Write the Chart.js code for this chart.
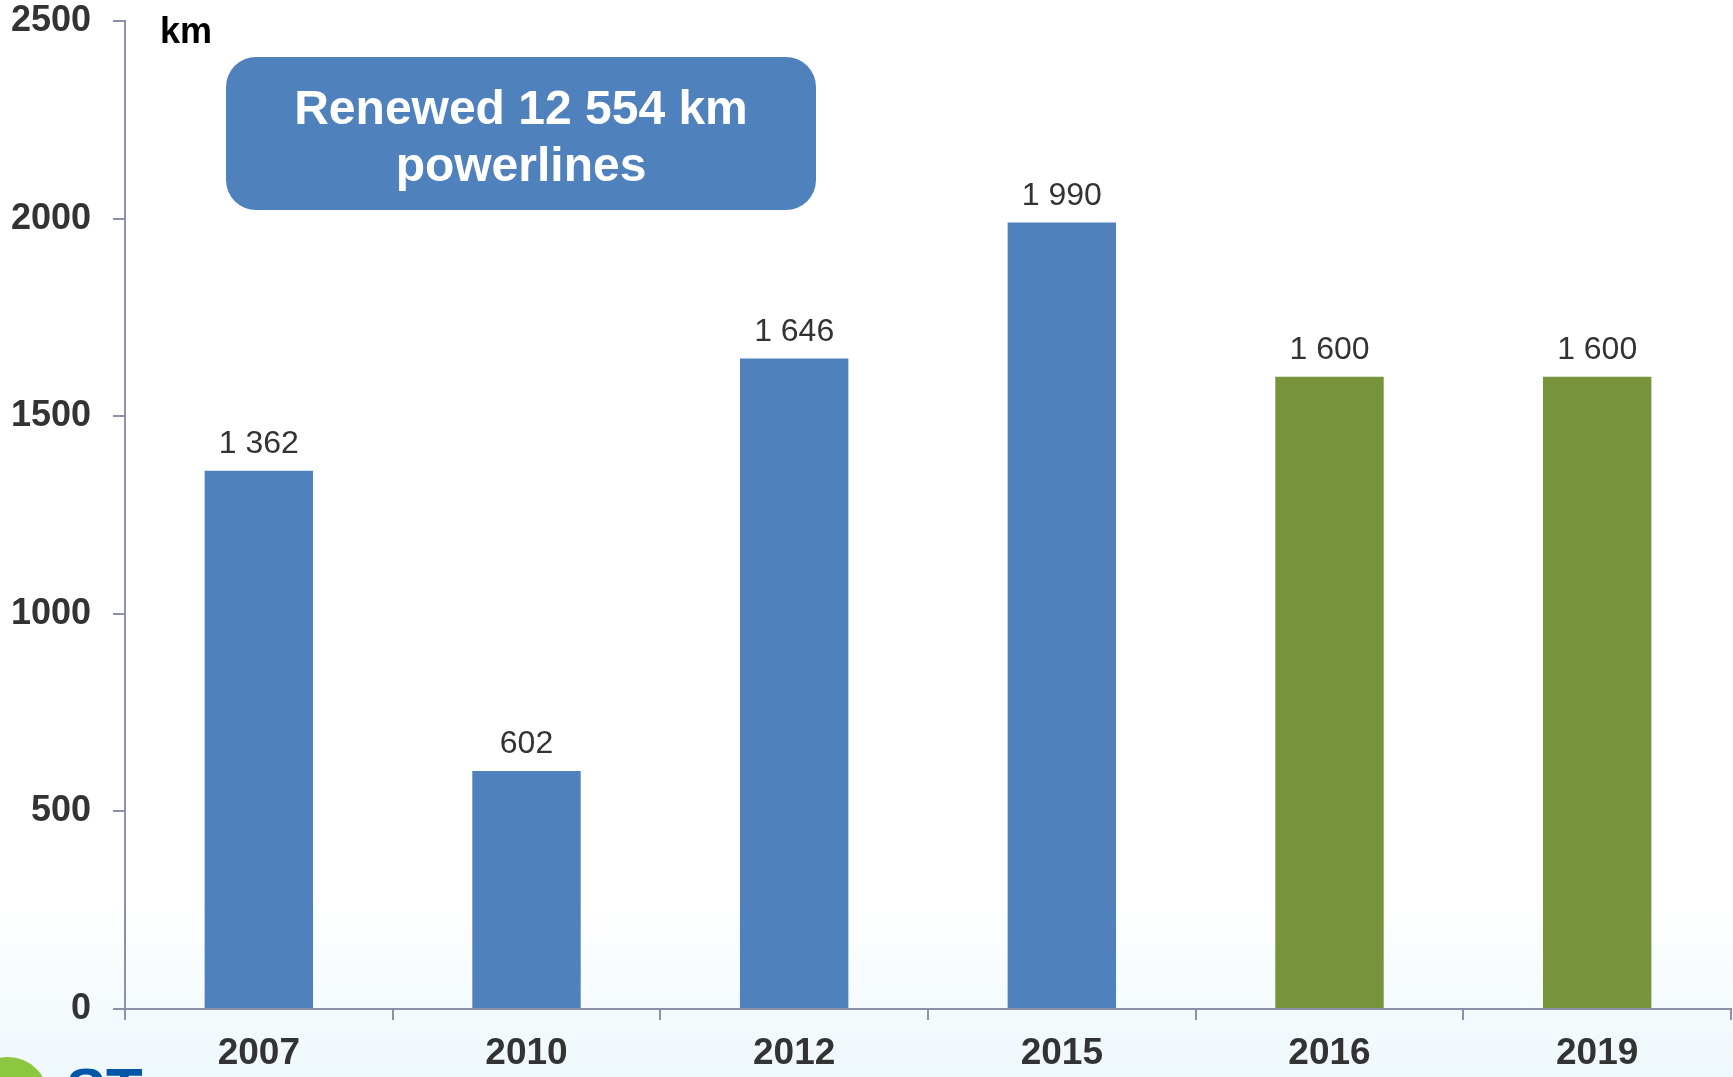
<!DOCTYPE html>
<html>
<head>
<meta charset="utf-8">
<title>Renewed powerlines</title>
<script src="https://cdn.jsdelivr.net/npm/chart.js@4.4.1/dist/chart.umd.min.js"></script>
<style>
  html, body { margin: 0; padding: 0; }
  body {
    width: 1733px; height: 1077px; overflow: hidden;
    background:
      linear-gradient(to bottom, rgba(255,255,255,0) 0px, rgba(255,255,255,0) 900px, rgba(225,242,248,0.55) 1077px),
      #ffffff;
  }
  #wrap { position: absolute; left: 0; top: 0; width: 1733px; height: 1077px; }
</style>
</head>
<body>
<div id="wrap"><canvas id="chartBar" width="1733" height="1077"></canvas></div>
<script>
// dados
const years = ['2007', '2010', '2012', '2015', '2016', '2019'];
const km = [1362, 602, 1646, 1990, 1600, 1600];
const barColors = ['#4F81BD', '#4F81BD', '#4F81BD', '#4F81BD', '#77933C', '#77933C'];
const yTicks = [0, 500, 1000, 1500, 2000, 2500];
const boxLines = ['Renewed 12 554 km', 'powerlines'];
const unitLabel = 'km';

const FONT = '"Liberation Sans", Arial, sans-serif';
const AXIS = '#8C90A8';

function fmt(v){
  return String(v).replace(/\B(?=(\d{3})+(?!\d))/g, ' ');
}

// rótulos de valor acima das barras
const valueLabels = {
  id: 'valueLabels',
  afterDatasetsDraw(chart){
    const ctx = chart.ctx;
    const meta = chart.getDatasetMeta(0);
    ctx.save();
    ctx.font = '32px ' + FONT;
    ctx.fillStyle = '#333333';
    ctx.textAlign = 'center';
    ctx.textBaseline = 'alphabetic';
    meta.data.forEach(function(bar, i){
      ctx.fillText(fmt(km[i]), bar.x, bar.y - 18);
    });
    ctx.restore();
  }
};

// caixa de destaque, unidade e logo
const extras = {
  id: 'extras',
  afterDraw(chart){
    const ctx = chart.ctx;
    ctx.save();
    ctx.fillStyle = '#4F81BD';
    ctx.beginPath();
    ctx.roundRect(226, 57, 590, 153, 30);
    ctx.fill();
    ctx.fillStyle = '#ffffff';
    ctx.font = 'bold 48px ' + FONT;
    ctx.textAlign = 'center';
    ctx.fillText(boxLines[0], 521, 124);
    ctx.fillText(boxLines[1], 521, 181);

    ctx.fillStyle = '#000000';
    ctx.font = 'bold 36px ' + FONT;
    ctx.textAlign = 'left';
    ctx.fillText(unitLabel, 160, 43);

    // logo cortado no canto
    ctx.fillStyle = '#8DC63F';
    ctx.beginPath();
    ctx.arc(8, 1097, 40, 0, Math.PI * 2);
    ctx.fill();
    ctx.fillStyle = '#0057A8';
    ctx.font = 'bold 60px ' + FONT;
    ctx.fillText('ST', 66, 1110);
    ctx.restore();
  }
};

new Chart(document.getElementById('chartBar').getContext('2d'), {
  type: 'bar',
  data: {
    labels: years,
    datasets: [{ data: km, backgroundColor: barColors, barPercentage: 0.405, categoryPercentage: 1 }]
  },
  options: {
    responsive: false,
    animation: false,
    layout: { padding: { top: 0, right: 2, left: 0, bottom: 0 } },
    plugins: { legend: { display: false }, tooltip: { enabled: false } },
    scales: {
      x: {
        grid: { display: true, drawOnChartArea: false, drawTicks: true, tickLength: 11, color: AXIS, lineWidth: 2 },
        border: { display: true, color: AXIS, width: 2 },
        ticks: { color: '#333333', font: { family: FONT, size: 37, weight: 'bold' }, padding: 12 },
        afterFit(scale){ scale.height = 68; }
      },
      y: {
        min: 0, max: 2500,
        afterBuildTicks(scale){ scale.ticks = yTicks.map(v => ({ value: v })); },
        grid: { display: true, drawOnChartArea: false, drawTicks: true, tickLength: 12, color: AXIS, lineWidth: 2 },
        border: { display: true, color: AXIS, width: 2 },
        ticks: {
          color: '#333333', font: { family: FONT, size: 36, weight: 'bold' }, padding: 22,
          callback: function(v){ return String(v); }
        },
        afterFit(scale){
          scale.width = 125;
          scale.paddingTop = 21;
          scale.paddingBottom = 0;
        }
      }
    }
  },
  plugins: [valueLabels, extras]
});
</script>
</body>
</html>
